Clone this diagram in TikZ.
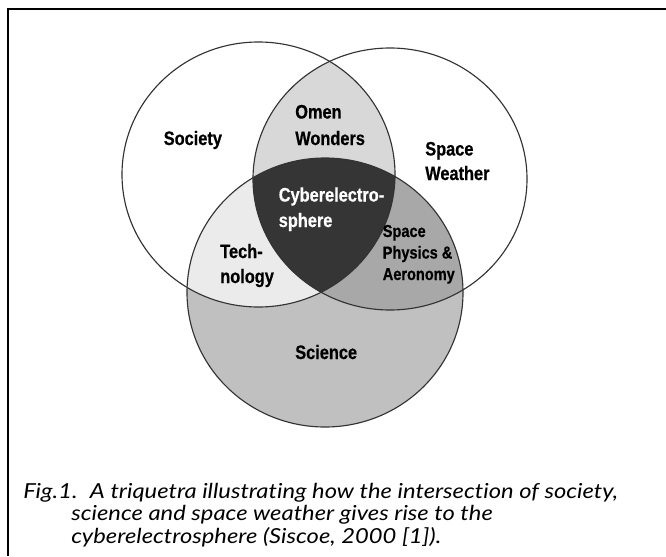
\documentclass[tikz,border=0pt]{standalone}
\usepackage{fontspec}
\newfontfamily\labfont{Liberation Sans}[FakeStretch=0.84,FakeBold=0.6]
\newfontfamily\capfont{Lato}[FakeStretch=1.15,Ligatures={NoCommon,NoRare}]
\definecolor{scicol}{HTML}{C0C0C0}
\definecolor{spcol}{HTML}{A8A8A8}
\definecolor{techcol}{HTML}{EBEBEB}
\definecolor{omencol}{HTML}{D8D8D8}
\definecolor{cybcol}{HTML}{353535}
\begin{document}
\begin{tikzpicture}[x=0.75pt,y={(0,-0.75pt)},
  lbl/.style={anchor=base west,inner sep=0pt,font=\labfont\bfseries\fontsize{14.6}{17}\selectfont},
  lbls/.style={anchor=base west,inner sep=0pt,font=\labfont\bfseries\fontsize{13}{15}\selectfont},
  captext/.style={anchor=base west,inner sep=0pt,font=\capfont\itshape\fontsize{15.5}{18}\selectfont},
  ring/.style={draw=black!80,line width=0.85pt},
  socring/.style={x radius=136.5,y radius=132.5},
  swring/.style={x radius=137,y radius=131},
  sciring/.style={x radius=138,y radius=134.5}]
\useasboundingbox (0,0) rectangle (666,556);
\fill[white] (0,0) rectangle (666,556);
\coordinate (socC) at (258.5,174.5);
\coordinate (swC) at (390,179);
\coordinate (sciC) at (325,292.5);
% fills
\fill[scicol] (sciC) ellipse [sciring];
\begin{scope}
  \clip (swC) ellipse [swring];
  \fill[spcol] (sciC) ellipse [sciring];
\end{scope}
\begin{scope}
  \clip (socC) ellipse [socring];
  \fill[techcol] (sciC) ellipse [sciring];
  \fill[omencol] (swC) ellipse [swring];
  \clip (swC) ellipse [swring];
  \fill[cybcol] (sciC) ellipse [sciring];
\end{scope}
% outlines
\draw[ring] (socC) ellipse [socring];
\draw[ring] (swC) ellipse [swring];
\draw[ring] (sciC) ellipse [sciring];
% labels
\node[lbl] (society) at (163.5,145) {Society};
\node[lbl] (omen) at (295,118.5) {Omen};
\node[lbl] (wonders) at (295,145) {Wonders};
\node[lbl] (sw1) at (425,155.5) {Space};
\node[lbl] (sw2) at (425,180) {Weather};
\node[lbl,text=white] (cyb1) at (278.5,201.5) {Cyberelectro-};
\node[lbl,text=white] (cyb2) at (278.5,227) {sphere};
\node[lbl] (tech1) at (220,258) {Tech-};
\node[lbl] (tech2) at (220,283) {nology};
\node[lbls] (sp1) at (382.5,237) {Space};
\node[lbls] (sp2) at (382.5,258.5) {Physics \&};
\node[lbls] (sp3) at (382.5,280) {Aeronomy};
\node[lbl] (science) at (295,359) {Science};
% caption
\node[captext] (cap1) at (23,498) {Fig.1.\hspace{0.6em}A triquetra illustrating how the intersection of society,};
\node[captext] (cap2) at (71,520.5) {science and space weather gives rise to the};
\node[captext] (cap3) at (71,543) {cyberelectrosphere (Siscoe, 2000 [1]).};
% frame
\draw[line width=1.5pt] (7.7,556) -- (7.7,9.5) -- (666,9.5);
\end{tikzpicture}
\end{document}
